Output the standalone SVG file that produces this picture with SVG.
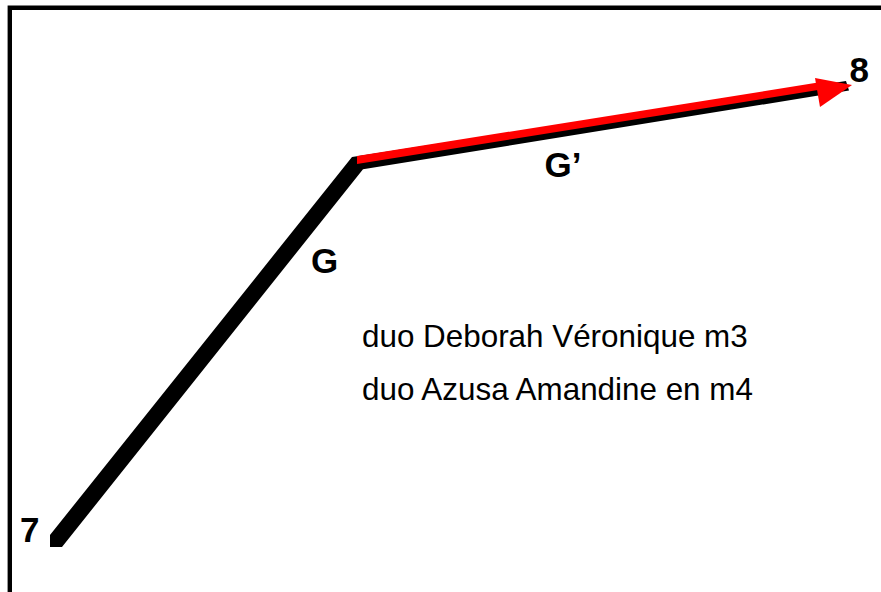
<svg xmlns="http://www.w3.org/2000/svg" width="881" height="592" viewBox="0 0 881 592">
<style>
.bold{font-family:"Liberation Sans",Arial,sans-serif;font-weight:bold;font-size:35px;fill:#000}
.reg{font-family:"Liberation Sans",Arial,sans-serif;font-size:31.4px;fill:#000}
</style>
<rect width="881" height="592" fill="#fff"/>
<path d="M9.8,592 V7.8 H881" fill="none" stroke="#000" stroke-width="4.4"/>
<g id="connectors">
<polygon id="G-line" points="50,535 352,157 846,81 849,90.6 363,169.2 62,547 50,547" fill="#000"/>
<g id="Gprime-arrow" fill="#f00">
<polygon points="357,155.9 818,82.6 818,90 357,164"/>
<polygon points="815,78 852,85 820,107"/>
</g>
</g>
<g id="node-7"><text class="bold" x="20" y="541.7">7</text></g>
<g id="node-8"><text class="bold" x="849.5" y="81.7">8</text></g>
<g id="label-G"><text class="bold" x="311" y="272.7">G</text></g>
<g id="label-Gprime"><text class="bold" x="544.5" y="176.7">G’</text></g>
<g id="notes">
<text class="reg" x="362" y="347">duo Deborah Véronique m3</text>
<text class="reg" x="362" y="400">duo Azusa Amandine en m4</text>
</g>
</svg>
